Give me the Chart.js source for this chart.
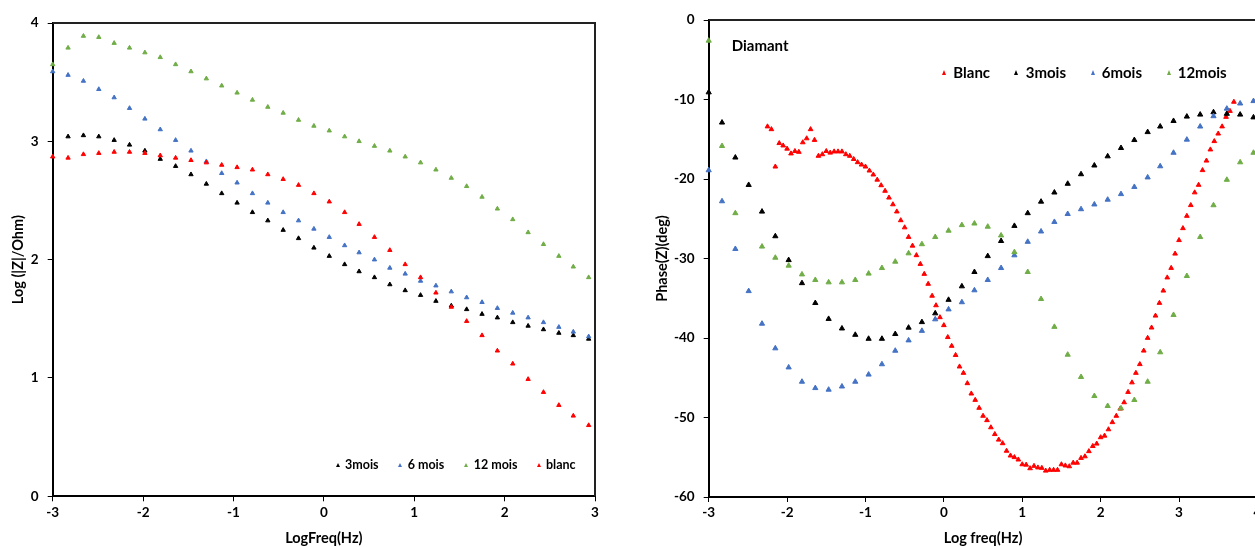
<!DOCTYPE html>
<html>
<head>
<meta charset="utf-8">
<title>Diamant - Bode</title>
<script src="https://cdn.jsdelivr.net/npm/chart.js@4.4.1/dist/chart.umd.min.js"></script>
<style>
  html, body { margin: 0; padding: 0; background: #fff; overflow: hidden; }
  body { width: 1255px; height: 547px; position: relative; font-family: Lato, 'Open Sans', sans-serif; font-weight: bold; color: #000; }
  canvas { position: absolute; top: 0; }
  #mag { left: 0; }
  #phase { left: 640px; }
  .lbl { position: absolute; white-space: nowrap; line-height: 18px; }
  .tri { position: absolute; width: 0; height: 0; }
</style>
</head>
<body>
<canvas id="mag" width="620" height="547"></canvas>
<canvas id="phase" width="660" height="547"></canvas>
<div id="overlay"></div>
<script>
// log10 of frequency (Hz), shared by the Bode series
const logFreq = [
  -3.00, -2.83, -2.66, -2.49, -2.32, -2.15, -1.98, -1.81, -1.64, -1.47,
  -1.30, -1.13, -0.96, -0.79, -0.62, -0.45, -0.28, -0.11, 0.06, 0.23,
  0.39, 0.56, 0.73, 0.90, 1.07, 1.24, 1.41, 1.58, 1.75, 1.92,
  2.09, 2.26, 2.43, 2.60, 2.76, 2.93, 3.10, 3.27, 3.44, 3.61,
  3.78, 3.95
];
// the blank sample was measured on a finer grid
const blancLogFreq = [
  -2.25, -2.20, -2.15, -2.10, -2.05, -2.00, -1.95, -1.90, -1.85, -1.80,
  -1.75, -1.70, -1.65, -1.60, -1.55, -1.50, -1.45, -1.40, -1.35, -1.30,
  -1.25, -1.20, -1.15, -1.10, -1.05, -1.00, -0.95, -0.90, -0.85, -0.80,
  -0.75, -0.70, -0.65, -0.60, -0.55, -0.50, -0.45, -0.40, -0.35, -0.30,
  -0.25, -0.20, -0.15, -0.10, -0.05, 0.00, 0.05, 0.10, 0.15, 0.20,
  0.25, 0.30, 0.35, 0.40, 0.45, 0.50, 0.55, 0.60, 0.65, 0.70,
  0.75, 0.80, 0.85, 0.90, 0.95, 1.00, 1.05, 1.10, 1.15, 1.20,
  1.25, 1.30, 1.35, 1.40, 1.45, 1.50, 1.55, 1.60, 1.65, 1.70,
  1.75, 1.80, 1.85, 1.90, 1.95, 2.00, 2.05, 2.10, 2.15, 2.20,
  2.25, 2.30, 2.35, 2.40, 2.45, 2.50, 2.55, 2.60, 2.65, 2.70,
  2.75, 2.80, 2.85, 2.90, 2.95, 3.00, 3.05, 3.10, 3.15, 3.20,
  3.25, 3.30, 3.35, 3.40, 3.45, 3.50, 3.55, 3.60, 3.65, 3.70
];

// Log(|Z|/Ohm) - left panel
const mag3mois = [
  null, 3.04, 3.05, 3.04, 3.01, 2.97, 2.92, 2.85, 2.79, 2.72,
  2.64, 2.56, 2.48, 2.40, 2.33, 2.25, 2.18, 2.10, 2.03, 1.96,
  1.90, 1.85, 1.79, 1.74, 1.70, 1.65, 1.61, 1.58, 1.54, 1.51,
  1.47, 1.44, 1.41, 1.38, 1.36, 1.33
];
const mag6mois = [
  3.59, 3.56, 3.51, 3.44, 3.37, 3.28, 3.19, 3.10, 3.01, 2.92,
  2.83, 2.73, 2.65, 2.56, 2.48, 2.40, 2.33, 2.26, 2.19, 2.12,
  2.06, 2.00, 1.93, 1.88, 1.82, 1.78, 1.73, 1.68, 1.64, 1.59,
  1.55, 1.51, 1.47, 1.43, 1.39, 1.35
];
const mag12mois = [
  3.65, 3.79, 3.89, 3.88, 3.83, 3.79, 3.75, 3.71, 3.65, 3.59,
  3.53, 3.47, 3.41, 3.35, 3.29, 3.24, 3.18, 3.13, 3.09, 3.04,
  3.00, 2.96, 2.92, 2.87, 2.82, 2.76, 2.69, 2.62, 2.53, 2.43,
  2.34, 2.23, 2.13, 2.03, 1.94, 1.85
];
const magBlanc = [
  2.87, 2.86, 2.89, 2.90, 2.91, 2.91, 2.90, 2.88, 2.86, 2.84,
  2.82, 2.80, 2.78, 2.76, 2.72, 2.68, 2.63, 2.56, 2.49, 2.40,
  2.30, 2.19, 2.08, 1.96, 1.85, 1.72, 1.60, 1.48, 1.36, 1.23,
  1.12, 0.99, 0.88, 0.77, 0.68, 0.60
];

// Phase(Z) in degrees - right panel
const phase3mois = [
  -9.1, -12.9, -17.3, -20.75, -24.1, -27.2, -30.2, -33.1, -35.6, -37.6,
  -38.8, -39.6, -40.1, -40.1, -39.5, -38.7, -38.0, -36.9, -35.2, -33.5,
  -31.7, -29.7, -27.8, -25.9, -24.3, -22.85, -21.7, -20.6, -19.4, -18.3,
  -17.15, -16.1, -15.1, -14.1, -13.4, -12.7, -12.15, -11.9, -11.6, -11.8,
  -11.9, -12.25
];
const phase6mois = [
  -18.9, -22.8, -28.8, -34.1, -38.2, -41.3, -43.7, -45.5, -46.3, -46.5,
  -46.1, -45.5, -44.6, -43.3, -41.6, -40.3, -39.1, -37.65, -36.4, -35.5,
  -34.0, -32.7, -31.2, -29.6, -27.9, -26.6, -25.4, -24.4, -23.8, -23.2,
  -22.6, -21.9, -21.0, -19.8, -18.4, -16.7, -15.05, -13.4, -12.1, -11.15,
  -10.5, -10.2
];
const phase12mois = [
  -2.6, -15.85, -24.3, null, -28.5, -29.9, -30.9, -32.0, -32.7, -33.0,
  -33.0, -32.7, -31.9, -31.2, -30.4, -29.35, -28.2, -27.3, -26.5, -25.8,
  -25.6, -26.0, -27.1, -29.2, -31.7, -35.1, -38.6, -42.1, -44.9, -47.3,
  -48.55, -48.85, -47.8, -45.5, -41.8, -37.1, -32.2, -27.3, -23.3, -20.1,
  -17.9, -16.7
];
const phaseBlanc = [
  -13.4, -13.75, -18.45, -15.5, -15.8, -16.2, -16.8, -16.5, -16.6, -15.4,
  -14.9, -13.75, -15.1, -17.1, -16.9, -16.5, -16.7, -16.55, -16.55, -16.55,
  -16.9, -17.1, -17.5, -17.9, -18.2, -18.45, -18.95, -19.45, -20.1, -20.8,
  -21.5, -22.35, -23.2, -24.1, -25.2, -26.1, -27.3, -28.4, -29.6, -30.7,
  -31.95, -33.2, -34.7, -35.9, -37.4, -38.4, -39.9, -41.0, -42.15, -43.6,
  -44.4, -45.7, -47.0, -47.8, -48.8, -49.8, -50.35, -51.25, -52.1, -52.8,
  -53.25, -54.2, -54.8, -55.0, -55.3, -55.9, -55.95, -56.4, -56.1, -56.3,
  -56.35, -56.7, -56.6, -56.6, -56.6, -55.9, -56.05, -56.15, -55.7, -55.7,
  -55.1, -54.9, -54.25, -53.6, -53.3, -52.5, -52.3, -51.5, -50.6, -49.8,
  -48.9, -48.1, -46.8, -45.6, -44.4, -43.3, -41.6, -40.0, -38.7, -37.2,
  -35.6, -34.05, -32.4, -31.2, -29.4, -27.7, -26.2, -24.65, -23.3, -21.7,
  -20.75, -18.9, -17.7, -16.3, -15.25, -14.3, -13.4, -12.2, -11.45, -10.3
];

const COLORS = { black: '#000000', blue: '#4472C4', green: '#70AD47', red: '#FF0000' };
const FONT = 'Lato';

function toPoints(xs, ys) {
  return ys.map((y, i) => ({ x: xs[i], y })).filter(p => p.y !== null);
}

function series(label, xs, ys, color, radius, order) {
  return {
    label,
    data: toPoints(xs, ys),
    pointStyle: 'triangle',
    pointRadius: radius,
    pointBorderWidth: 1,
    backgroundColor: color,
    borderColor: color,
    showLine: false,
    clip: false,
    order,
  };
}

// dark frame round the plot area (Excel plot-area border)
const plotBorder = {
  id: 'plotBorder',
  beforeDatasetsDraw(chart) {
    const { ctx, chartArea: a } = chart;
    ctx.save();
    ctx.strokeStyle = '#222';
    ctx.lineWidth = 2;
    ctx.beginPath();
    ctx.moveTo(a.left, a.top);
    ctx.lineTo(a.right, a.top);
    ctx.lineTo(a.right, a.bottom);
    ctx.stroke();
    ctx.restore();
  }
};

function axis(min, max, step, title, boxSize, titlePad) {
  const horizontal = title.horizontal;
  return {
    type: 'linear',
    min, max,
    ticks: {
      stepSize: step,
      color: '#000',
      padding: horizontal ? 3 : 9,
      font: { family: FONT, size: 13.5, weight: 'bold' },
    },
    grid: { drawOnChartArea: false, drawTicks: true, tickLength: 5, color: '#000', lineWidth: 1 },
    border: { display: true, color: '#000', width: 2 },
    title: {
      display: true,
      text: title.text,
      color: '#000',
      font: { family: FONT, size: 14.5, weight: 'bold', lineHeight: 1.2 },
      padding: titlePad,
    },
    afterFit(scale) {
      if (horizontal) scale.height = boxSize; else scale.width = boxSize;
    },
  };
}

const baseOptions = {
  responsive: false,
  animation: false,
  events: [],
  plugins: { legend: { display: false }, tooltip: { enabled: false } },
};

new Chart(document.getElementById('mag'), {
  type: 'scatter',
  data: {
    datasets: [
      series('3mois', logFreq, mag3mois, COLORS.black, 2.5, 4),
      series('6 mois', logFreq, mag6mois, COLORS.blue, 2.5, 3),
      series('12 mois', logFreq, mag12mois, COLORS.green, 2.5, 2),
      series('blanc', logFreq, magBlanc, COLORS.red, 2.5, 1),
    ],
  },
  options: {
    ...baseOptions,
    layout: { padding: { top: 23, right: 25, bottom: 0, left: 0 } },
    scales: {
      x: axis(-3, 3, 1, { text: 'LogFreq(Hz)', horizontal: true }, 50.7, { top: 0, bottom: 0 }),
      y: axis(0, 4, 1, { text: 'Log (|Z|/Ohm)' }, 52.7, { top: 9.3, bottom: 0 }),
    },
  },
  plugins: [plotBorder],
});

new Chart(document.getElementById('phase'), {
  type: 'scatter',
  data: {
    datasets: [
      series('Blanc', blancLogFreq, phaseBlanc, COLORS.red, 2.7, 4),
      series('3mois', logFreq, phase3mois, COLORS.black, 3, 3),
      series('6mois', logFreq, phase6mois, COLORS.blue, 3, 2),
      series('12mois', logFreq, phase12mois, COLORS.green, 3, 1),
    ],
  },
  options: {
    ...baseOptions,
    layout: { padding: { top: 20, right: 42.6, bottom: 0, left: 0 } },
    scales: {
      x: axis(-3, 4, 1, { text: 'Log freq(Hz)', horizontal: true }, 50, { top: 0, bottom: 0 }),
      y: axis(-60, 0, 10, { text: 'Phase(Z)(deg)' }, 68.7, { top: 13.3, bottom: 0 }),
    },
  },
  plugins: [plotBorder],
});

// legends and panel label as page text
const overlay = document.getElementById('overlay');
function addText(text, left, centerY, size) {
  const d = document.createElement('div');
  d.className = 'lbl';
  d.textContent = text;
  d.style.left = left + 'px';
  d.style.top = (centerY - 9) + 'px';
  d.style.fontSize = size + 'px';
  overlay.appendChild(d);
}
function addMarker(cx, cy, color, w) {
  const t = document.createElement('div');
  t.className = 'tri';
  t.style.left = (cx - w / 2) + 'px';
  t.style.top = (cy - w / 2) + 'px';
  t.style.borderLeft = (w / 2) + 'px solid transparent';
  t.style.borderRight = (w / 2) + 'px solid transparent';
  t.style.borderBottom = w + 'px solid ' + color;
  overlay.appendChild(t);
}

const magLegend = [
  { name: '3mois', color: COLORS.black, mx: 337.7, tx: 345 },
  { name: '6 mois', color: COLORS.blue, mx: 400, tx: 407.7 },
  { name: '12 mois', color: COLORS.green, mx: 466, tx: 473.7 },
  { name: 'blanc', color: COLORS.red, mx: 538.7, tx: 546 },
];
magLegend.forEach(l => { addMarker(l.mx, 464.5, l.color, 4); addText(l.name, l.tx, 464.5, 12.5); });

const phaseLegend = [
  { name: 'Blanc', color: COLORS.red, mx: 944, tx: 953.3 },
  { name: '3mois', color: COLORS.black, mx: 1016.7, tx: 1025.7 },
  { name: '6mois', color: COLORS.blue, mx: 1093.3, tx: 1101.7 },
  { name: '12mois', color: COLORS.green, mx: 1169.3, tx: 1177.7 },
];
phaseLegend.forEach(l => { addMarker(l.mx, 72, l.color, 5); addText(l.name, l.tx, 72, 15); });

addText('Diamant', 731.7, 44.5, 15);
</script>
</body>
</html>
